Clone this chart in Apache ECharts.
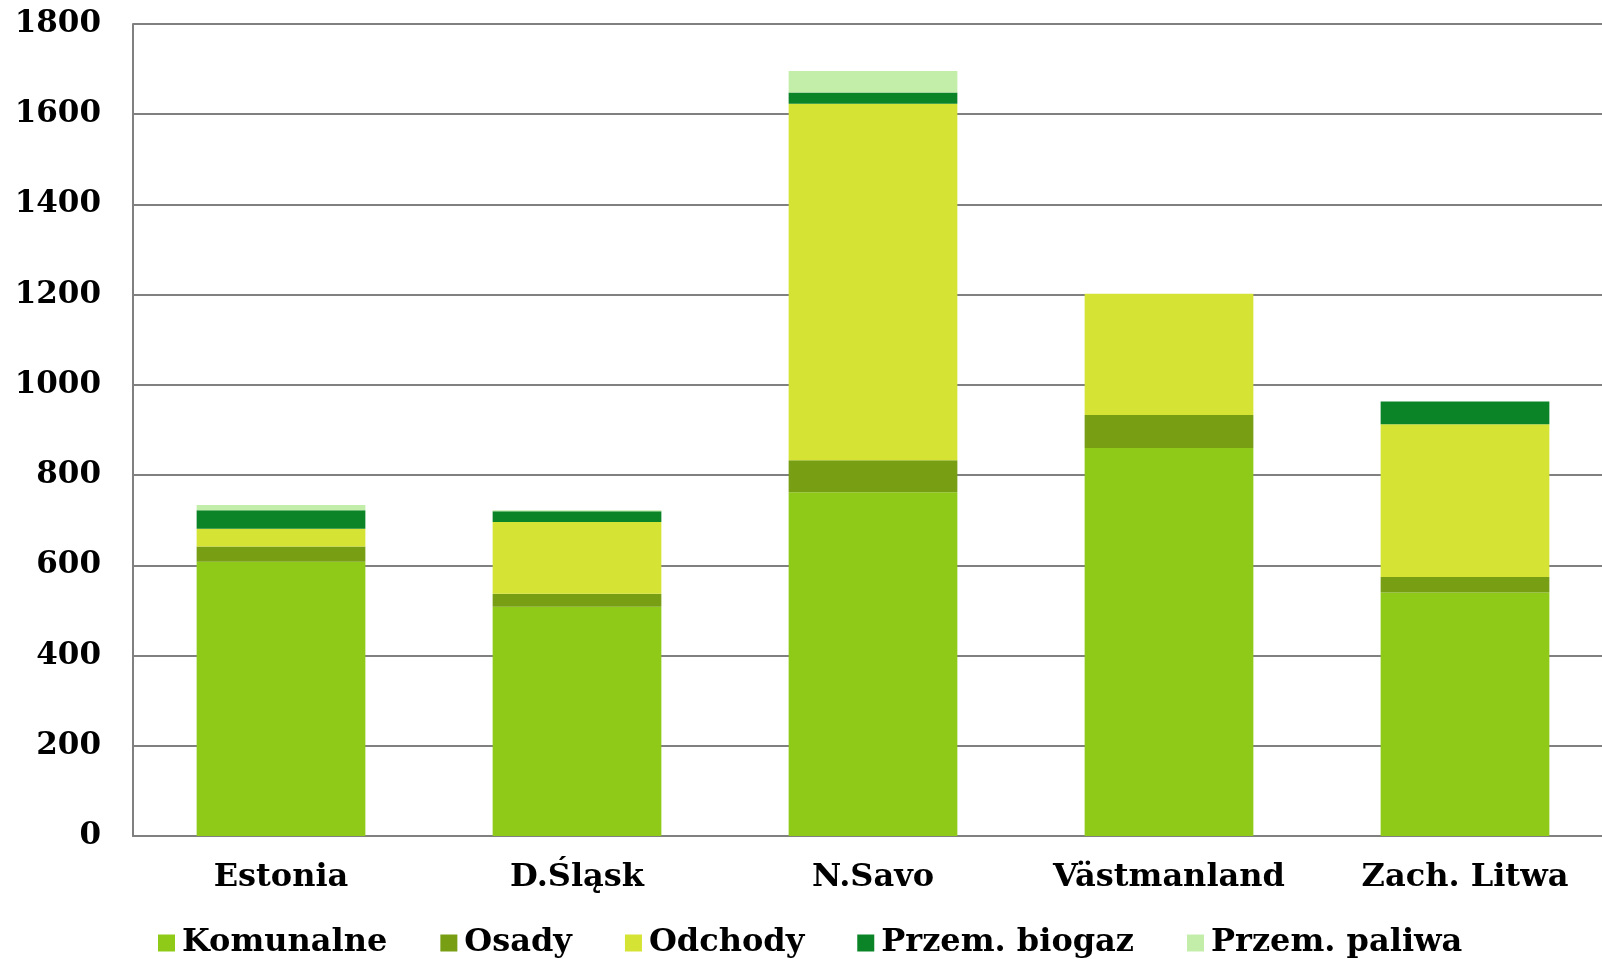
<!DOCTYPE html>
<html>
<head>
<meta charset="utf-8">
<script src="https://cdn.jsdelivr.net/npm/echarts@6/dist/echarts.min.js"></script>
<style>
  html, body { margin: 0; padding: 0; background: #ffffff; }
  #chart { width: 1602px; height: 959px; }
</style>
</head>
<body>
<div id="chart"></div>
<script>
// Regions compared
const categories = ['Estonia', 'D.Śląsk', 'N.Savo', 'Västmanland', 'Zach. Litwa'];

// Stacked components per region
const komunalne   = [608, 508, 762, 860, 540];
const osady       = [34, 29, 71, 73, 34];
const odchody     = [39, 159, 790, 269, 339];
const przemBiogaz = [41, 24, 25, 0, 50];
const przemPaliwa = [12, 2, 48, 0, 0];

const seriesNames = ['Komunalne', 'Osady', 'Odchody', 'Przem. biogaz', 'Przem. paliwa'];
const seriesData = [komunalne, osady, odchody, przemBiogaz, przemPaliwa];
const seriesColors = ['#8fca18', '#789f14', '#d5e335', '#0b8428', '#c2eeaa'];

const yTicks = { min: 0, max: 1800, interval: 200 };

const fontFamily = '"DejaVu Serif", "Liberation Serif", serif';

const chart = echarts.init(document.getElementById('chart'), null, { renderer: 'canvas' });

chart.setOption({
  animation: false,
  backgroundColor: '#ffffff',
  // plot area runs past the right edge of the canvas, so the last category is clipped
  grid: { left: 133, width: 1480, top: 24, bottom: 123, containLabel: false, outerBoundsMode: 'none' },
  legend: {
    data: seriesNames,
    left: 153,
    top: 921,
    itemWidth: 17,
    itemHeight: 17,
    itemGap: 53,
    icon: 'rect',
    textStyle: { fontFamily, fontWeight: 'bold', fontSize: 32, color: '#000000', lineHeight: 34, padding: [0, 0, 0, 2] }
  },
  xAxis: {
    type: 'category',
    data: categories,
    axisLine: { lineStyle: { color: '#808080', width: 2 } },
    axisTick: { show: false },
    axisLabel: { interval: 0, fontFamily, fontWeight: 'bold', fontSize: 32, color: '#000000', margin: 26 }
  },
  yAxis: {
    type: 'value',
    min: yTicks.min,
    max: yTicks.max,
    interval: yTicks.interval,
    axisLine: { show: true, lineStyle: { color: '#808080', width: 2 } },
    axisTick: { show: false },
    splitLine: { lineStyle: { color: '#808080', width: 2 } },
    axisLabel: { fontFamily, fontWeight: 'bold', fontSize: 31, color: '#000000', margin: 32, padding: [4, 0, 0, 0], formatter: v => String(v) }
  },
  series: seriesNames.map((name, i) => ({
    name,
    type: 'bar',
    stack: 'total',
    data: seriesData[i],
    barWidth: '57%',
    itemStyle: { color: seriesColors[i] }
  }))
});
</script>
</body>
</html>
